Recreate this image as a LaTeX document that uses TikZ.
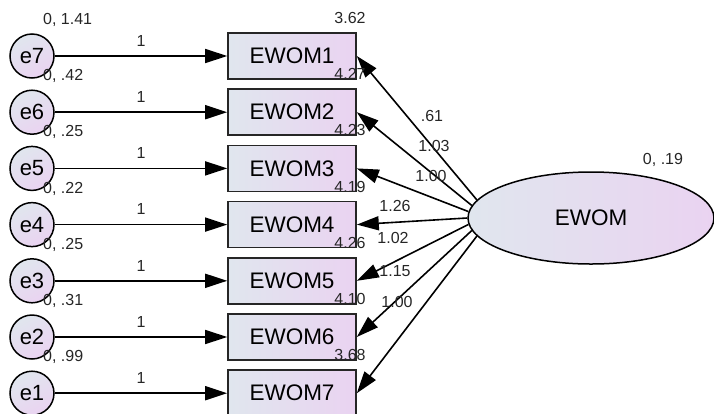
\documentclass[tikz,border=0pt]{standalone}
\usepackage{fontspec}
\setmainfont{Liberation Sans}
\usetikzlibrary{positioning}
\usetikzlibrary{shapes.geometric}
\usetikzlibrary{arrows.meta}

\definecolor{shadeBlue}{HTML}{E0E6EE}
\definecolor{shadeLilac}{HTML}{EAD3F1}

\begin{document}
\begin{tikzpicture}[x=1pt, y=-1pt, node distance=56.2pt]
		\tikzstyle{errVar} = [circle, minimum size=44pt, inner sep=0pt, draw=black, line width=1.5pt, top color=shadeBlue, bottom color=shadeLilac, shading angle=30, font=\fontsize{22}{24}\selectfont]
		\tikzstyle{obsVar} = [rectangle, minimum width=128pt, minimum height=46pt, inner sep=0pt, draw=black!85, line width=1.6pt, left color=shadeBlue, right color=shadeLilac, font=\fontsize{22.5}{24}\selectfont]
		\tikzstyle{latVar} = [ellipse, minimum width=246pt, minimum height=92pt, inner sep=0pt, draw=black, line width=1.5pt, left color=shadeBlue, right color=shadeLilac, font=\fontsize{22.5}{24}\selectfont]
		\tikzstyle{lbl} = [inner sep=1pt, text=black!85, font=\fontsize{16}{18}\selectfont]
		\tikzstyle{arr} = [-{Triangle[length=22pt, width=14pt]}, line width=1.6pt]

		\useasboundingbox (0,0) rectangle (714,413);

		% error terms
		\node (e7) [errVar] at (32,56) {e7};
		\node (e6) [errVar, below of=e7] {e6};
		\node (e5) [errVar, below of=e6] {e5};
		\node (e4) [errVar, below of=e5] {e4};
		\node (e3) [errVar, below of=e4] {e3};
		\node (e2) [errVar, below of=e3] {e2};
		\node (e1) [errVar, below of=e2] {e1};

		% indicators
		\node (ewom1) [obsVar, right of=e7, node distance=260pt] {EWOM1};
		\node (ewom2) [obsVar, below of=ewom1] {EWOM2};
		\node (ewom3) [obsVar, below of=ewom2] {EWOM3};
		\node (ewom4) [obsVar, below of=ewom3] {EWOM4};
		\node (ewom5) [obsVar, below of=ewom4] {EWOM5};
		\node (ewom6) [obsVar, below of=ewom5] {EWOM6};
		\node (ewom7) [obsVar, below of=ewom6] {EWOM7};

		% factor
		\node (ewom) [latVar] at (591,218) {EWOM};

		\draw [arr] (e7) -- node[lbl, above=8pt] (w7) {1} (ewom1);
		\draw [arr] (e6) -- node[lbl, above=8pt] (w6) {1} (ewom2);
		\draw [arr] (e5) -- node[lbl, above=8pt] (w5) {1} (ewom3);
		\draw [arr] (e4) -- node[lbl, above=8pt] (w4) {1} (ewom4);
		\draw [arr] (e3) -- node[lbl, above=8pt] (w3) {1} (ewom5);
		\draw [arr] (e2) -- node[lbl, above=8pt] (w2) {1} (ewom6);
		\draw [arr] (e1) -- node[lbl, above=8pt] (w1) {1} (ewom7);

		\draw [arr] (ewom.171) -- (ewom1.east);
		\draw [arr] (ewom.174) -- (ewom2.east);
		\draw [arr] (ewom.177) -- (ewom3.east);
		\draw [arr] (ewom.180) -- (ewom4.east);
		\draw [arr] (ewom.183) -- (ewom5.east);
		\draw [arr] (ewom.186) -- (ewom6.east);
		\draw [arr] (ewom.189) -- (ewom7.east);

		% variances
		\node (v7) [lbl, anchor=west] at (42,20) {0, 1.41};
		\node (v6) [lbl, anchor=west] at (42,76) {0, .42};
		\node (v5) [lbl, anchor=west] at (42,132) {0, .25};
		\node (v4) [lbl, anchor=west] at (42,189) {0, .22};
		\node (v3) [lbl, anchor=west] at (42,245) {0, .25};
		\node (v2) [lbl, anchor=west] at (42,301) {0, .31};
		\node (v1) [lbl, anchor=west] at (42,357) {0, .99};
		\node (vf) [lbl] at (663,160) {0, .19};

		% intercepts
		\node (i1) [lbl] at (350,18) {3.62};
		\node (i2) [lbl] at (350,74) {4.27};
		\node (i3) [lbl] at (350,130) {4.23};
		\node (i4) [lbl] at (350,187) {4.19};
		\node (i5) [lbl] at (350,243) {4.26};
		\node (i6) [lbl] at (350,299) {4.10};
		\node (i7) [lbl] at (350,355) {3.68};

		% loadings
		\node (l1) [lbl] at (432,116) {.61};
		\node (l2) [lbl] at (434,146) {1.03};
		\node (l3) [lbl] at (431,176) {1.00};
		\node (l4) [lbl] at (395,206) {1.26};
		\node (l5) [lbl] at (393,238) {1.02};
		\node (l6) [lbl] at (395,271) {1.15};
		\node (l7) [lbl] at (397,302) {1.00};
	\end{tikzpicture}
\end{document}
